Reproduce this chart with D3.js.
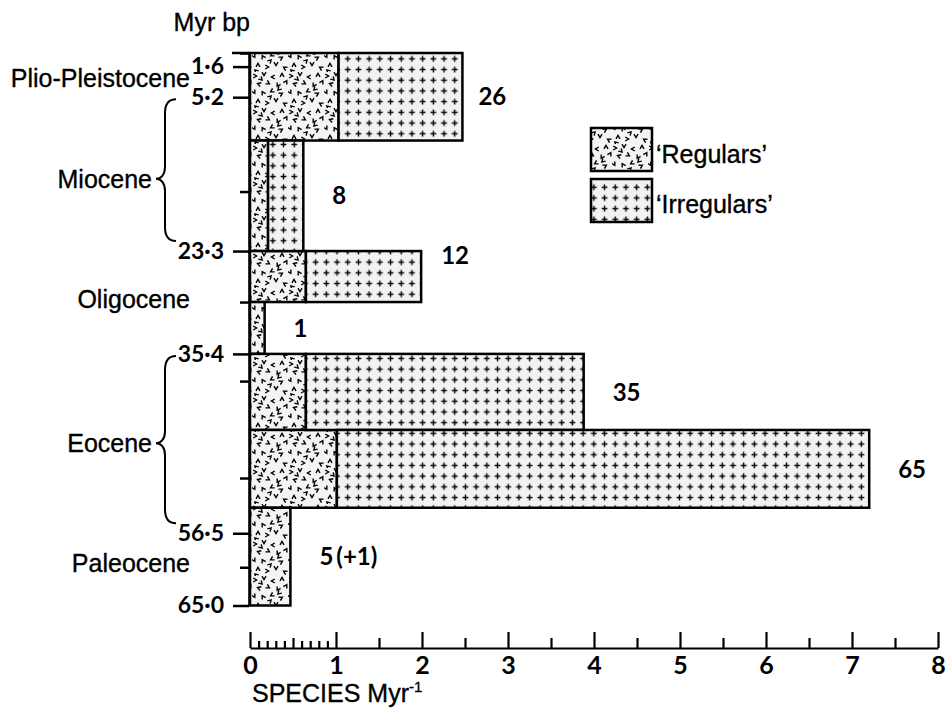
<!DOCTYPE html>
<html>
<head>
<meta charset="utf-8">
<script src="https://cdn.jsdelivr.net/npm/d3@7"></script>
<style>
  body { margin: 0; background: #fff; }
  .epoch { font-family: "Liberation Sans", Arial, sans-serif; font-size: 25px; fill: #000; stroke: #000; stroke-width: 0.35px; }
  .num { font-family: Lato, "Open Sans", sans-serif; font-weight: 700; fill: #000; }
</style>
</head>
<body>
<div id="root"></div>
<script>
// time bins (Myr bp) and diversification rates (species per Myr)
const binTop = [0, 10.3, 23.3, 29.3, 35.4, 44.35, 53.5];
const binBottom = [10.3, 23.3, 29.3, 35.4, 44.35, 53.5, 65.0];
const speciesCount = ["26", "8", "12", "1", "35", "65", "5\u2009(+1)"];
const regularRate = [1.03, 0.21, 0.65, 0.17, 0.65, 1.01, 0.47];
const totalRate = [2.47, 0.62, 1.99, 0.17, 3.88, 7.2, 0.47];

// y axis ticks
const tickMyr = [0, 1.6, 5.2, 16.3, 23.3, 29.3, 35.4, 38.6, 50.0, 56.5, 60.5, 65.0];
const tickLabels = ["", "1·6", "5·2", "", "23·3", "", "35·4", "", "", "56·5", "", "65·0"];

// epochs: name, label position (Myr), brace span or none
const epochNames = ["Plio-Pleistocene", "Miocene", "Oligocene", "Eocene", "Paleocene"];
const epochLabelMyr = [2.9, 14.8, 28.9, 45.9, 60.0];
const epochBrace = [null, [5.2, 23.3], null, [35.4, 56.5], null];

// x axis ticks
const xMajor = [0, 1, 2, 3, 4, 5, 6, 7, 8];
const xHalf = [0.5, 1.5, 2.5, 3.5, 4.5, 5.5, 6.5, 7.5];
const xTenth = [0.1, 0.2, 0.3, 0.4, 0.6, 0.7, 0.8, 0.9];

const width = 945;
const height = 712;

const svg = d3.select("#root")
  .append("svg")
  .attr("width", width)
  .attr("height", height);

const x = d3.scaleLinear().domain([0, 8]).range([250, 938]);
const y = d3.scaleLinear().domain([0, 65]).range([53, 605.5]);

// Patterns
const defs = svg.append("defs");

const reg = defs.append("pattern")
  .attr("id", "regular")
  .attr("patternUnits", "userSpaceOnUse")
  .attr("width", 36)
  .attr("height", 36);
reg.append("rect").attr("width", 36).attr("height", 36).attr("fill", "#f4f4f4");
const marks = [
  [3, 4, 0], [12, 2, 90], [21, 5, 180], [30, 3, 270],
  [7, 12, 200], [16, 11, 30], [26, 13, 120], [34, 10, 300],
  [2, 20, 60], [11, 21, 240], [20, 19, 150], [29, 22, 330],
  [6, 29, 270], [15, 31, 0], [24, 28, 90], [33, 32, 210],
  [9, 7, 45], [27, 17, 135], [18, 25, 315], [4, 35, 225]
];
reg.selectAll("path")
  .data(marks)
  .join("path")
  .attr("d", "M-1.8,-2 L1.6,0 L-1.8,2")
  .attr("transform", (d) => `translate(${d[0]},${d[1]}) rotate(${d[2]})`)
  .attr("fill", "none")
  .attr("stroke", "#000")
  .attr("stroke-width", 1.4);

const irr = defs.append("pattern")
  .attr("id", "irregular")
  .attr("patternUnits", "userSpaceOnUse")
  .attr("width", 10.7)
  .attr("height", 10.7);
irr.append("rect").attr("width", 10.7).attr("height", 10.7).attr("fill", "#f2f2f2");
irr.append("path")
  .attr("d", "M5.35,2.5 V8.2 M2.5,5.35 H8.2")
  .attr("stroke", "#000")
  .attr("stroke-width", 1.4);

// Bars
const bins = binTop.map((t, i) => ({
  top: t,
  bottom: binBottom[i],
  reg: regularRate[i],
  total: totalRate[i],
  label: speciesCount[i]
}));

const bars = svg.append("g").attr("id", "bars");

bars.selectAll(".reg")
  .data(bins)
  .join("rect")
  .attr("class", "reg")
  .attr("x", x(0))
  .attr("y", (d) => y(d.top))
  .attr("width", (d) => x(d.reg) - x(0))
  .attr("height", (d) => y(d.bottom) - y(d.top))
  .attr("fill", "url(#regular)")
  .attr("stroke", "#000")
  .attr("stroke-width", 2.5);

bars.selectAll(".irr")
  .data(bins.filter((d) => d.total > d.reg))
  .join("rect")
  .attr("class", "irr")
  .attr("x", (d) => x(d.reg))
  .attr("y", (d) => y(d.top))
  .attr("width", (d) => x(d.total) - x(d.reg))
  .attr("height", (d) => y(d.bottom) - y(d.top))
  .attr("fill", "url(#irregular)")
  .attr("stroke", "#000")
  .attr("stroke-width", 2.5);

// counts sit beside each bar; the Plio-Pleistocene one is closer in,
// the early Oligocene one sits up near the top of its bar
bars.selectAll(".count")
  .data(bins)
  .join("text")
  .attr("class", "num count")
  .attr("x", (d, i) => x(d.total) + (i === 0 ? 16 : i === 2 ? 20 : 29))
  .attr("y", (d, i) => i === 2 ? y(d.top) + 4 : (y(d.top) + y(d.bottom)) / 2)
  .attr("dy", "0.36em")
  .attr("font-size", 24)
  .text((d) => d.label);

// Y axis
const labelled = tickMyr.filter((d, i) => tickLabels[i] !== "");
const unlabelled = tickMyr.filter((d, i) => tickLabels[i] === "");

const yAxis = d3.axisLeft(y)
  .tickValues(labelled)
  .tickSize(16)
  .tickSizeOuter(0)
  .tickPadding(9)
  .tickFormat((d) => tickLabels[tickMyr.indexOf(d)]);

const yMinor = d3.axisLeft(y)
  .tickValues(unlabelled)
  .tickSize(9)
  .tickFormat("");

svg.append("g")
  .attr("id", "y-axis")
  .attr("transform", "translate(249,0)")
  .call(yAxis);
svg.append("g")
  .attr("transform", "translate(249,0)")
  .call(yMinor)
  .select(".domain").remove();
// top tick at 0 is long, like the labelled ones
svg.append("line")
  .attr("x1", 232).attr("x2", 249)
  .attr("y1", y(0)).attr("y2", y(0))
  .attr("stroke", "#000").attr("stroke-width", 2.5);

svg.selectAll("#y-axis text")
  .attr("class", "num")
  .attr("font-size", 23);
svg.selectAll("g .tick line, g .domain")
  .attr("stroke", "#000")
  .attr("stroke-width", 2.5);

svg.append("text")
  .attr("class", "epoch")
  .attr("x", 250)
  .attr("y", 31)
  .attr("text-anchor", "end")
  .text("Myr bp");

// Epoch labels and braces
epochNames.forEach((name, i) => {
  const yc = y(epochLabelMyr[i]);
  const brace = epochBrace[i];
  svg.append("text")
    .attr("class", "epoch")
    .attr("x", brace ? 152 : 190)
    .attr("y", yc)
    .attr("dy", "0.36em")
    .attr("text-anchor", "end")
    .text(name);
  if (brace) {
    const y0 = y(brace[0]) + 2;
    const y1 = y(brace[1]) - 10;
    const sx = 165;
    const path = d3.path();
    path.moveTo(176, y0);
    path.bezierCurveTo(169, y0, sx, y0 + 4, sx, y0 + 14);
    path.lineTo(sx, yc - 12);
    path.bezierCurveTo(sx, yc - 4, sx - 4, yc, sx - 9, yc);
    path.bezierCurveTo(sx - 4, yc, sx, yc + 4, sx, yc + 12);
    path.lineTo(sx, y1 - 14);
    path.bezierCurveTo(sx, y1 - 4, 169, y1, 176, y1);
    svg.append("path")
      .attr("d", path.toString())
      .attr("fill", "none")
      .attr("stroke", "#000")
      .attr("stroke-width", 2);
  }
});

// X axis
const xg = svg.append("g")
  .attr("id", "x-axis")
  .attr("transform", "translate(0,648)");

xg.append("g")
  .call(d3.axisBottom(x).tickValues(xMajor).tickSize(-16).tickSizeOuter(0).tickPadding(8).tickFormat(d3.format("d")));
xg.append("g")
  .call(d3.axisBottom(x).tickValues(xHalf).tickSize(-10).tickFormat(""))
  .select(".domain").remove();
xg.append("g")
  .call(d3.axisBottom(x).tickValues(xTenth).tickSize(-7).tickFormat(""))
  .select(".domain").remove();

xg.selectAll("text")
  .attr("class", "num")
  .attr("font-size", 25);
xg.selectAll("line, .domain")
  .attr("stroke", "#000")
  .attr("stroke-width", 2.2);

const xTitle = svg.append("text")
  .attr("class", "epoch")
  .attr("x", 252)
  .attr("y", 702)
  .text("SPECIES Myr");
xTitle.append("tspan")
  .attr("dy", -10)
  .attr("font-size", 15)
  .text("-1");

// Legend
const legend = svg.append("g").attr("id", "legend");
const legendItems = [["regular", "\u2018Regulars\u2019"], ["irregular", "\u2018Irregulars\u2019"]];
legendItems.forEach((item, i) => {
  legend.append("rect")
    .attr("x", 591)
    .attr("y", 128 + i * 51)
    .attr("width", 61)
    .attr("height", 43)
    .attr("fill", `url(#${item[0]})`)
    .attr("stroke", "#000")
    .attr("stroke-width", 2.5);
  legend.append("text")
    .attr("class", "epoch")
    .attr("x", 656)
    .attr("y", 163 + i * 50)
    .text(item[1]);
});
</script>
</body>
</html>
